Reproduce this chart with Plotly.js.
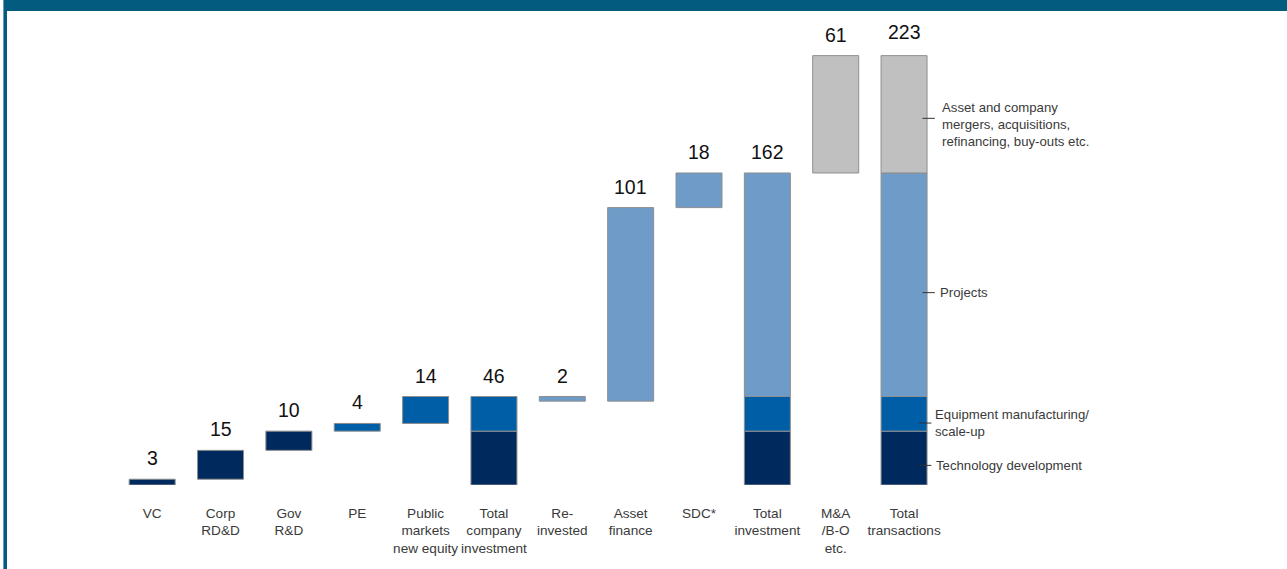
<!DOCTYPE html>
<html>
<head>
<meta charset="utf-8">
<script src="https://cdn.plot.ly/plotly-3.0.1.min.js"></script>
<style>
  html, body { margin: 0; padding: 0; background: #ffffff; }
  #wrap { position: relative; width: 1287px; height: 569px; overflow: hidden; }
  #chart { position: absolute; left: 0; top: 0; width: 1287px; height: 569px; }
  .frame { position: absolute; z-index: 10; }
</style>
</head>
<body>
<div id="wrap">
  <div id="chart"></div>
  <div class="frame" style="left:3px;top:0;width:1284px;height:11px;background:#035C80;"></div>
  <div class="frame" style="left:3px;top:0;width:1px;height:569px;background:#6C9CB5;"></div>
  <div class="frame" style="left:4px;top:0;width:3px;height:569px;background:#035C80;"></div>
</div>
<script>
// ---- data ----
const categories = ['VC', 'Corp<br>RD&D', 'Gov<br>R&D', 'PE', 'Public<br>markets<br>new equity',
  'Total<br>company<br>investment', 'Re-<br>invested', 'Asset<br>finance', 'SDC*',
  'Total<br>investment', 'M&A<br>/B-O<br>etc.', 'Total<br>transactions'];
const valueLabels = [3, 15, 10, 4, 14, 46, 2, 101, 18, 162, 61, 223];
// step amounts; 'total' steps show accumulated segments
const stepAmounts = [3, 15, 10, 4, 14, null, -2.4, 100.6, 18.0, null, 61, null];
const stepSegment = ['tech', 'tech', 'tech', 'equip', 'equip', 'total', 'proj', 'proj', 'proj', 'total', 'mna', 'total'];
const segmentNames = ['tech', 'equip', 'proj', 'mna'];
const segmentLabels = ['Technology development', 'Equipment manufacturing/<br>scale-up', 'Projects',
  'Asset and company<br>mergers, acquisitions,<br>refinancing, buy-outs etc.'];

// ---- styling ----
const segColors = { tech: '#002A5E', equip: '#005EA6', proj: '#6E9BC8', mna: '#C0C0C0' };
const outline = '#8E8E8E';

// build floating / stacked bars through running totals
const n = categories.length;
const segBase = {}, segVal = {};
segmentNames.forEach(s => { segBase[s] = new Array(n).fill(null); segVal[s] = new Array(n).fill(null); });
const segTotals = { tech: 0, equip: 0, proj: 0, mna: 0 };
let running = 0;
const tops = [];
for (let i = 0; i < n; i++) {
  const seg = stepSegment[i];
  if (seg === 'total') {
    let b = 0;
    segmentNames.forEach(s => {
      if (segTotals[s] > 0) { segBase[s][i] = b; segVal[s][i] = segTotals[s]; b += segTotals[s]; }
    });
    tops.push(b);
  } else {
    const a = stepAmounts[i];
    if (a >= 0) { segBase[seg][i] = running; segVal[seg][i] = a; running += a; tops.push(running); }
    else { running += a; segBase[seg][i] = running; segVal[seg][i] = -a; tops.push(running - a); }
    segTotals[seg] += a;
  }
}

const xs = categories.map((c, i) => i);
const traces = segmentNames.map(s => ({
  type: 'bar', x: xs, y: segVal[s], base: segBase[s], width: 0.673,
  marker: { color: segColors[s], line: { color: outline, width: 1 } },
  hoverinfo: 'skip', showlegend: false
}));

const annotations = valueLabels.map((v, i) => ({
  x: i, y: tops[i], xref: 'x', yref: 'y', text: String(v), showarrow: false,
  yshift: (i === n - 1 ? 24 : 21), yanchor: 'middle', xanchor: 'center',
  font: { family: 'Liberation Sans, Arial, sans-serif', size: 19.5, color: '#111111' }
}));

// legend-like labels on the right of the last bar
const legendY = { mna: 187.6, proj: 100, equip: 32.2, tech: 10.2 };
const legendX = { mna: 11.52, proj: 11.49, equip: 11.43, tech: 11.44 };
const dashX0 = { mna: 11.27, proj: 11.27, equip: 11.22, tech: 11.22 };
const dashDy = { mna: 3, proj: 0, equip: 0, tech: 0 };
const shapes = [];
segmentNames.forEach((s, k) => {
  annotations.push({
    x: legendX[s], y: legendY[s], xref: 'x', yref: 'y', text: segmentLabels[k], showarrow: false,
    xanchor: 'left', yanchor: 'middle', align: 'left',
    font: { family: 'Liberation Sans, Arial, sans-serif', size: 13.2, color: '#3a3a3a' }
  });
  shapes.push({ type: 'line', xref: 'x', yref: 'y', x0: dashX0[s], x1: dashX0[s] + 0.18,
    y0: legendY[s] + dashDy[s], y1: legendY[s] + dashDy[s],
    line: { color: '#333333', width: 1 } });
});

const layout = {
  width: 1287, height: 569,
  margin: { l: 118, r: 7, t: 11, b: 84 },
  paper_bgcolor: '#ffffff', plot_bgcolor: '#ffffff',
  barmode: 'overlay',
  showlegend: false,
  xaxis: {
    range: [-0.5, 16.5], tickmode: 'array', tickvals: xs, ticktext: categories,
    tickangle: 0, automargin: false,
    showgrid: false, zeroline: false, showline: false, ticks: '', ticklabelstandoff: 18,
    tickfont: { family: 'Liberation Sans, Arial, sans-serif', size: 13.6, color: '#3a3a3a' },
    fixedrange: true
  },
  yaxis: {
    range: [0, 246.4], showgrid: false, zeroline: false, showline: false,
    showticklabels: false, ticks: '', fixedrange: true
  },
  annotations: annotations,
  shapes: shapes,
  font: { family: 'Liberation Sans, Arial, sans-serif' }
};

Plotly.newPlot('chart', traces, layout, { displayModeBar: false, staticPlot: true });
</script>
</body>
</html>
